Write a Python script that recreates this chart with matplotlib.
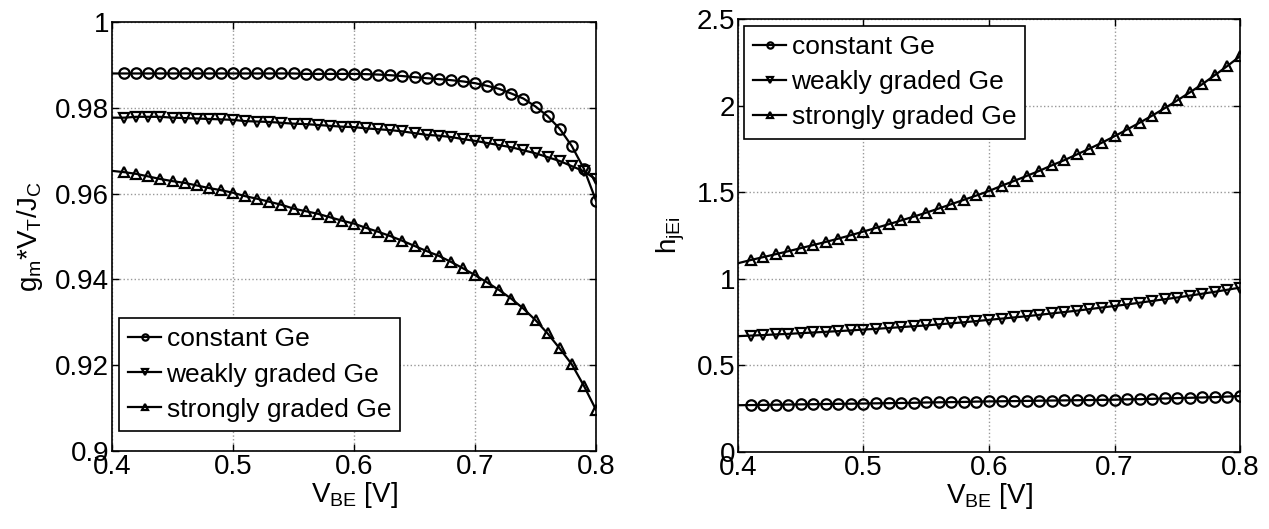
import matplotlib
matplotlib.use('Agg')
import matplotlib.pyplot as plt
from matplotlib.ticker import FormatStrFormatter
import numpy as np

plt.rcParams['font.family'] = ['Liberation Sans', 'DejaVu Sans']
plt.rcParams['mathtext.fontset'] = 'custom'
plt.rcParams['mathtext.rm'] = 'Liberation Sans'
plt.rcParams['mathtext.it'] = 'Liberation Sans'
plt.rcParams['mathtext.bf'] = 'Liberation Sans:bold'

# V_BE grid [V]
vbe = np.round(np.arange(0.40, 0.805, 0.01), 2)

labels = ['constant Ge', 'weakly graded Ge', 'strongly graded Ge']

# g_m*V_T/J_C
gm_const = [0.9880, 0.9880, 0.9880, 0.9880, 0.9880, 0.9880, 0.9880, 0.9880, 0.9880, 0.9880,
            0.9880, 0.9880, 0.9880, 0.9880, 0.9880, 0.9880, 0.9879, 0.9879, 0.9879, 0.9879,
            0.9879, 0.98785, 0.98775, 0.98760, 0.98740, 0.98715, 0.98690, 0.98670, 0.98645, 0.98615,
            0.98574, 0.98512, 0.98442, 0.98333, 0.98216, 0.98030, 0.97807, 0.97512, 0.97109, 0.96581,
            0.95837]
gm_weak = [0.9777, 0.9777, 0.9779, 0.9779, 0.9779, 0.9777, 0.9776, 0.9775, 0.9774, 0.9773,
           0.9772, 0.9769, 0.9768, 0.9767, 0.9765, 0.9763, 0.9762, 0.9760, 0.9758, 0.9756,
           0.9755, 0.9752, 0.9750, 0.9748, 0.9745, 0.9741, 0.9737, 0.9735, 0.9732, 0.9727,
           0.9723, 0.9718, 0.9713, 0.9708, 0.9701, 0.9694, 0.9685, 0.9676, 0.9664, 0.9652,
           0.9633]
gm_strong = [0.9653, 0.9650, 0.9646, 0.9640, 0.9634, 0.9629, 0.9625, 0.9619, 0.9613, 0.9608,
             0.9602, 0.9594, 0.9588, 0.9581, 0.9574, 0.9565, 0.9559, 0.9553, 0.9545, 0.9537,
             0.9530, 0.9520, 0.9511, 0.9501, 0.9490, 0.9478, 0.9466, 0.9455, 0.9441, 0.9426,
             0.9410, 0.9393, 0.9375, 0.9355, 0.9332, 0.9305, 0.9274, 0.9239, 0.9202, 0.9152,
             0.9096]

# h_jEi
h_const = [0.270, 0.271, 0.272, 0.273, 0.274, 0.275, 0.276, 0.277, 0.278, 0.279,
           0.280, 0.281, 0.282, 0.283, 0.284, 0.286, 0.287, 0.288, 0.289, 0.291,
           0.292, 0.293, 0.294, 0.295, 0.296, 0.297, 0.298, 0.299, 0.300, 0.301,
           0.302, 0.304, 0.305, 0.307, 0.309, 0.311, 0.313, 0.315, 0.317, 0.320,
           0.323]
h_weak = [0.669, 0.672, 0.675, 0.679, 0.682, 0.686, 0.690, 0.694, 0.698, 0.702,
          0.707, 0.711, 0.716, 0.721, 0.726, 0.731, 0.737, 0.743, 0.749, 0.756,
          0.763, 0.770, 0.777, 0.784, 0.792, 0.800, 0.808, 0.816, 0.825, 0.834,
          0.843, 0.852, 0.862, 0.872, 0.882, 0.892, 0.903, 0.914, 0.925, 0.937,
          0.949]
h_strong = [1.090, 1.108, 1.125, 1.142, 1.159, 1.177, 1.195, 1.213, 1.232, 1.252,
            1.273, 1.294, 1.315, 1.337, 1.359, 1.382, 1.406, 1.431, 1.456, 1.481,
            1.507, 1.537, 1.565, 1.594, 1.623, 1.655, 1.685, 1.718, 1.751, 1.786,
            1.823, 1.862, 1.901, 1.942, 1.985, 2.030, 2.076, 2.124, 2.176, 2.229,
            2.285]

markers = ['o', 'v', '^']
fs = 20

W, H = 1269, 529
fig = plt.figure(figsize=(W / 100, H / 100), dpi=100)
ax1 = fig.add_axes([112 / W, (H - 451) / H, 484 / W, 429 / H])
ax2 = fig.add_axes([738 / W, (H - 452) / H, 502 / W, 433 / H])


def draw(ax, series, ylim, yticks, ylabel, legend_loc, anchor):
    for y, m, lab in zip(series, markers, labels):
        ax.plot(vbe, y, color='black', linewidth=1.6, marker=m, markersize=7.5,
                markerfacecolor='none', markeredgecolor='black', markeredgewidth=1.6,
                markevery=slice(1, None), label=lab)
    ax.set_xlim(0.4, 0.8)
    ax.set_ylim(*ylim)
    ax.set_xticks([0.4, 0.5, 0.6, 0.7, 0.8])
    ax.set_yticks(yticks)
    ax.xaxis.set_major_formatter(FormatStrFormatter('%g'))
    ax.yaxis.set_major_formatter(FormatStrFormatter('%g'))
    ax.tick_params(direction='in', length=5, width=1, labelsize=fs, pad=2,
                   top=True, right=True)
    ax.grid(True, linestyle=':', color='0.6', linewidth=1.0)
    for s in ax.spines.values():
        s.set_linewidth(1.2)
    ax.set_xlabel('$V_{BE}$ [V]', fontsize=fs, labelpad=0)
    ax.set_ylabel(ylabel, fontsize=fs, labelpad=7)
    leg = ax.legend(loc=legend_loc, bbox_to_anchor=anchor, fontsize=19, frameon=True,
                    fancybox=False, edgecolor='black', framealpha=1, markerscale=0.6,
                    handlelength=1.25, handletextpad=0.2, borderpad=0.35,
                    labelspacing=0.42, borderaxespad=0)
    leg.get_frame().set_linewidth(1.2)


draw(ax1, [gm_const, gm_weak, gm_strong], (0.9, 1.0),
     [0.9, 0.92, 0.94, 0.96, 0.98, 1.0], '$g_m$*$V_T$/$J_C$',
     'lower left', (0.0145, 0.047))
draw(ax2, [h_const, h_weak, h_strong], (0, 2.5),
     [0, 0.5, 1, 1.5, 2, 2.5], '$h_{jEi}$',
     'upper left', (0.012, 0.984))

fig.savefig('out.png', dpi=100)
